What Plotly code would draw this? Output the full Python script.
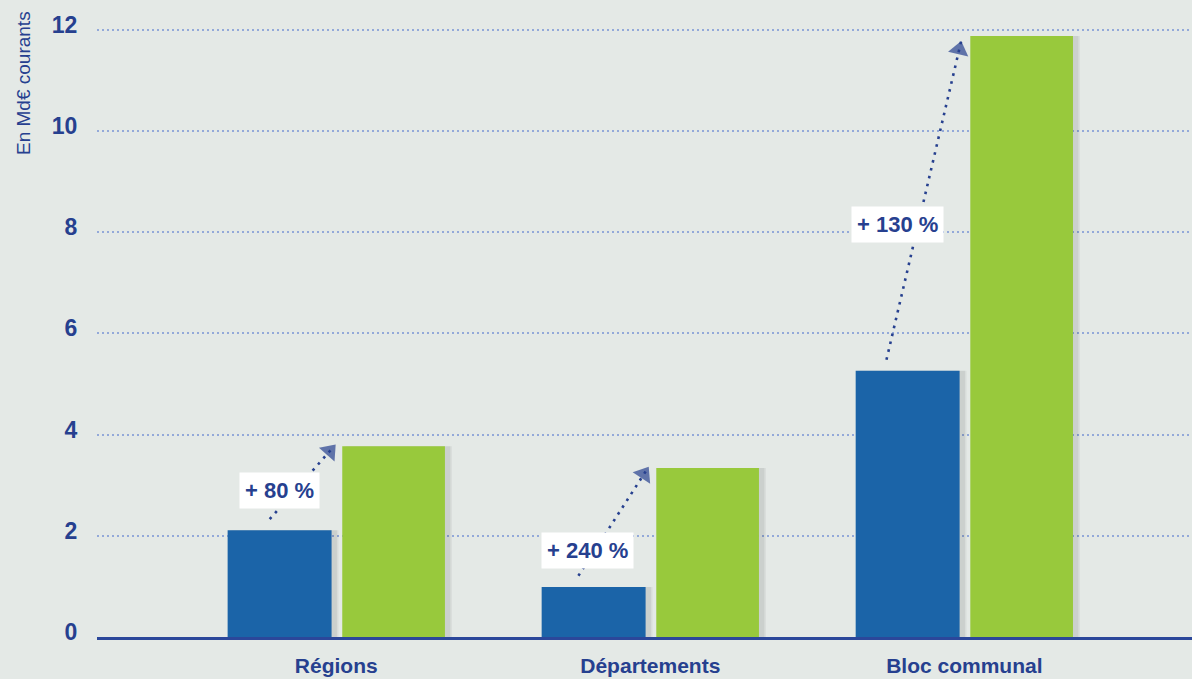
import plotly.graph_objects as go

categories = ["Régions", "Départements", "Bloc communal"]
values_before = [2.11, 0.99, 5.26]
values_after = [3.77, 3.34, 11.88]
growth_labels = ["+ 80 %", "+ 240 %", "+ 130 %"]
y_ticks = [0, 2, 4, 6, 8, 10, 12]

BG = "#e4e9e6"
DARK = "#26408f"
BLUE = "#1b64a8"
GREEN = "#98c93c"
GRID = "#93a9d9"
FONT = "Liberation Sans"

xs = list(range(len(categories)))

fig = go.Figure()

# soft shadows
for k, a in enumerate([0.05, 0.06]):
    d = 0.012 - 0.005 * k
    fig.add_trace(go.Bar(
        x=xs, y=values_before, width=0.331 + 0.01, offset=-0.346 + d,
        marker=dict(color="rgba(0,0,0,%.2f)" % a, line=dict(width=0)),
        showlegend=False, hoverinfo="skip"))
    fig.add_trace(go.Bar(
        x=xs, y=values_after, width=0.327 + 0.01, offset=0.019 + d,
        marker=dict(color="rgba(0,0,0,%.2f)" % a, line=dict(width=0)),
        showlegend=False, hoverinfo="skip"))

fig.add_trace(go.Bar(
    x=xs, y=values_before, width=0.331, offset=-0.346,
    marker=dict(color=BLUE, line=dict(width=0)), showlegend=False, hoverinfo="skip"))
fig.add_trace(go.Bar(
    x=xs, y=values_after, width=0.327, offset=0.019,
    marker=dict(color=GREEN, line=dict(width=0)), showlegend=False, hoverinfo="skip"))

# dotted growth arrows
start_dx = [-0.212, -0.229, -0.248]
end_dx = [-0.014, -0.013, -0.008]
label_dx = [-0.18, -0.20, -0.213]
label_t = [0.40, 0.24, 0.42]
for i, x in enumerate(xs):
    x0, y0 = x + start_dx[i], values_before[i] + 0.22
    x1, y1 = x + end_dx[i], values_after[i] - 0.05
    fig.add_trace(go.Scatter(
        x=[x0, x1], y=[y0, y1], mode="lines",
        line=dict(color=DARK, width=2.6, dash="2.6px,5.5px"),
        showlegend=False, hoverinfo="skip"))
    fig.add_trace(go.Scatter(
        x=[x0, x1 - (x1 - x0) * 0.035], y=[y0, y1 - (y1 - y0) * 0.035],
        mode="markers",
        marker=dict(symbol="triangle-up", size=[0, 18], color=DARK,
                    angleref="previous", line=dict(width=0)),
        showlegend=False, hoverinfo="skip"))
    t = label_t[i]
    fig.add_annotation(
        x=x + label_dx[i], y=y0 + (y1 - y0) * t,
        text="<b>" + growth_labels[i] + "</b>", showarrow=False,
        bgcolor="white", borderpad=5,
        font=dict(family=FONT, size=22, color=DARK))

fig.add_annotation(
    x=(23 - 97) / 1095, y=1.0, xref="paper", yref="paper", xanchor="center", yanchor="top",
    yshift=-9,
    text="En Md€ courants", textangle=-90, showarrow=False,
    font=dict(family=FONT, size=19, color=DARK))

fig.update_layout(
    width=1192, height=679,
    margin=dict(l=97, r=0, t=0, b=42),
    paper_bgcolor=BG, plot_bgcolor=BG,
    barmode="overlay",
    xaxis=dict(
        range=[-0.762, 2.725], tickvals=xs, ticktext=["<b>" + c + "</b>" for c in categories],
        tickfont=dict(family=FONT, size=21, color=DARK),
        showgrid=False, zeroline=False,
        showline=True, linecolor="#2b479a", linewidth=2.5,
        ticks="outside", ticklen=8, tickcolor="rgba(0,0,0,0)"),
    yaxis=dict(
        range=[0, 12.59], tickvals=y_ticks, ticktext=["<b>%d</b>" % v for v in y_ticks],
        tickfont=dict(family=FONT, size=23, color=DARK),
        showgrid=True, gridcolor=GRID, gridwidth=1.5, griddash="2px,3px",
        zeroline=False, showline=False,
        ticks="outside", ticklen=14, tickcolor="rgba(0,0,0,0)",
        ticklabelshift=-5),
)

fig.write_html("out.html", config={"displayModeBar": False},
               post_script="document.body.style.margin='0';document.body.style.background='%s';" % BG)
